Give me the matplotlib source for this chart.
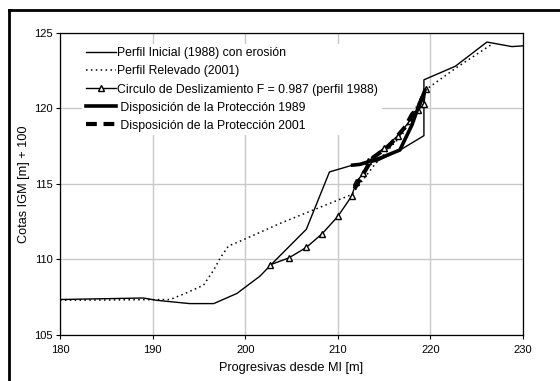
import matplotlib
matplotlib.use("Agg")
import matplotlib.pyplot as plt
from matplotlib.lines import Line2D

plt.rcParams['font.family'] = ['Liberation Sans', 'DejaVu Sans']

# Perfil Inicial (1988) con erosión
ini_x = [180, 189, 190.4, 194.0, 196.6, 199.1, 201.6, 202.7, 206.6, 209.1, 211.6, 214.2, 216.6, 219.3, 219.3, 222.7, 226.1, 228.8, 230]
ini_y = [107.35, 107.45, 107.3, 107.08, 107.08, 107.75, 108.9, 109.6, 112.0, 115.8, 116.25, 116.5, 117.2, 118.2, 121.9, 122.8, 124.4, 124.1, 124.15]

# Perfil Relevado (2001)
rel_x = [180, 191.9, 193.7, 195.5, 196.6, 197.3, 198.2, 199.4, 203.8, 211.5, 214.0, 217.0, 219.4, 222.8, 226.5]
rel_y = [107.3, 107.35, 107.8, 108.3, 109.3, 110.1, 110.9, 111.2, 112.4, 114.3, 116.3, 118.3, 121.2, 122.7, 124.2]

# Circulo de Deslizamiento F = 0.987
cir_x = [202.7, 204.7, 206.6, 208.3, 210.0, 211.5, 212.0, 212.75, 213.3, 215.0, 216.5, 217.8, 218.7, 219.3, 219.5]
cir_y = [109.65, 110.1, 110.8, 111.7, 112.85, 114.2, 115.15, 115.7, 116.5, 117.4, 118.2, 119.2, 119.9, 120.3, 121.3]

# Disposición de la Protección 1989
p89_x = [211.6, 212.4, 214.5, 216.7, 218.0, 218.7, 219.4]
p89_y = [116.25, 116.3, 116.7, 117.25, 118.9, 120.1, 121.2]

# Disposición de la Protección 2001
p01_x = [211.8, 213.8, 215.5, 216.2, 217.3, 218.0, 218.7, 219.3]
p01_y = [114.7, 116.75, 117.5, 118.0, 118.8, 119.6, 120.1, 121.0]

xticks = [180, 190, 200, 210, 220, 230]
yticks = [105, 110, 115, 120, 125]

fig = plt.figure(figsize=(5.6, 3.81), dpi=100)
ax = fig.add_axes([60/560, 1-335/381, (523-60)/560, (335-33)/381])

ax.plot(ini_x, ini_y, color='black', lw=1.0, label='Perfil Inicial (1988) con erosión', zorder=3)
ax.plot(rel_x, rel_y, color='black', lw=1.1, linestyle=(0, (1, 2.2)), label='Perfil Relevado (2001)', zorder=3)
ax.plot(cir_x, cir_y, color='black', lw=1.0, marker='^', ms=4, mfc='white', mec='black', mew=1.0,
        label='Circulo de Deslizamiento F = 0.987 (perfil 1988)', zorder=4)
ax.plot(p89_x, p89_y, color='black', lw=2.6, label=' Disposición de la Protección 1989', zorder=5)
ax.plot(p01_x, p01_y, color='black', lw=3.0, linestyle=(0, (2.6, 1.6)), label=' Disposición de la Protección 2001', zorder=5)

ax.set_xlim(180, 230)
ax.set_ylim(105, 125)
ax.set_xticks(xticks)
ax.set_yticks(yticks)
ax.tick_params(labelsize=8, direction='out', length=3, width=0.8)
ax.tick_params(axis='x', pad=4)
ax.tick_params(axis='y', pad=2)
ax.grid(True, color='#c8c8c8', lw=1.0)
ax.set_axisbelow(True)
for s in ax.spines.values():
    s.set_linewidth(0.9)
    s.set_color('black')

ax.set_xlabel('Progresivas desde MI [m]', fontsize=9.2, labelpad=5)
ax.set_ylabel('Cotas IGM [m] + 100', fontsize=9.2, labelpad=3)

leg = ax.legend(loc='upper left', bbox_to_anchor=(0.035, 0.985), fontsize=8.8, frameon=True,
                facecolor='white', edgecolor='none', framealpha=1, fancybox=False,
                handlelength=2.45, handletextpad=0.1, labelspacing=0.5, borderpad=0.3)

# outer frame
fig.add_artist(Line2D([9/560, 9/560], [0, 1-10/381], transform=fig.transFigure, color='black', lw=2))
fig.add_artist(Line2D([9/560, 1], [1-10/381, 1-10/381], transform=fig.transFigure, color='black', lw=2))

fig.savefig('out.png', dpi=100)
